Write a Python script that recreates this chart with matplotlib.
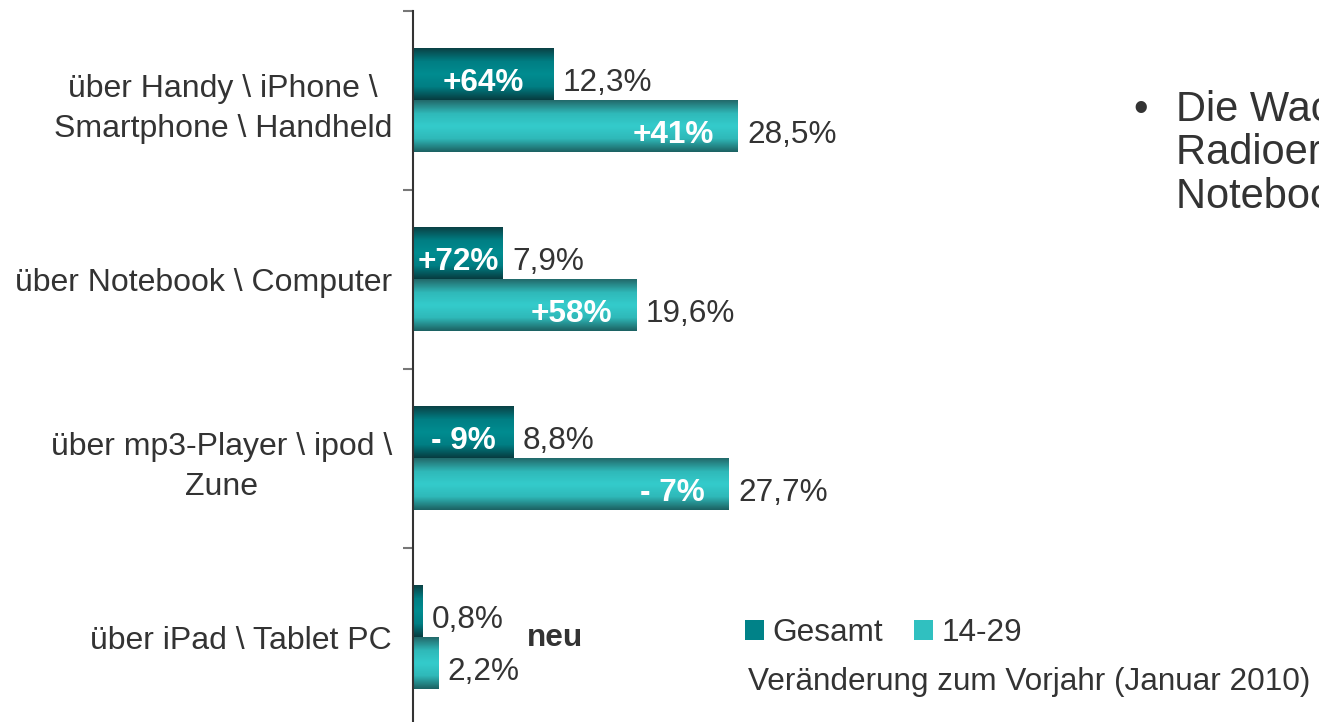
import numpy as np
import matplotlib.pyplot as plt
from matplotlib.colors import LinearSegmentedColormap
from matplotlib.patches import Patch

plt.rcParams['font.family'] = ['Liberation Sans', 'DejaVu Sans']

# Data
categories = ['über Handy \\ iPhone \\\nSmartphone \\ Handheld',
              'über Notebook \\ Computer',
              'über mp3-Player \\ ipod \\\nZune',
              'über iPad \\ Tablet PC']
gesamt = [12.3, 7.9, 8.8, 0.8]
jung = [28.5, 19.6, 27.7, 2.2]
change_gesamt = ['+64%', '+72%', '- 9%', '']
change_jung = ['+41%', '+58%', '- 7%', '']
series_names = ['Gesamt', '14-29']
bullet_lines = ['Die Wachstumsraten der', 'Radioerreichbarkeit über', 'Notebook \\ Computer']

txt = '#333333'
dark_cmap = LinearSegmentedColormap.from_list('dark', ['#0a4246', '#007e83', '#008c90', '#007e83', '#073d41'])
light_cmap = LinearSegmentedColormap.from_list('light', ['#226a6b', '#2fb8b8', '#34cccc', '#2fb8b8', '#1c6263'])

fig = plt.figure(figsize=(13.19, 7.22), dpi=100)
ax = fig.add_axes([413 / 1319, -5 / 722, 906 / 1319, 716 / 722])

y = np.arange(len(categories))
h = 0.29
bars_g = ax.barh(y - h / 2, gesamt, height=h, color='#008c90')
bars_j = ax.barh(y + h / 2, jung, height=h, color='#34cccc')

# gradient fill on every bar
grad = np.linspace(0, 1, 64).reshape(-1, 1)
for bars, cmap in [(bars_g, dark_cmap), (bars_j, light_cmap)]:
    for b in bars:
        x0, y0, w, hh = b.get_x(), b.get_y(), b.get_width(), b.get_height()
        ax.imshow(grad, cmap=cmap, aspect='auto', extent=[x0, x0 + w, y0 + hh, y0],
                  interpolation='bilinear', zorder=2)

ax.set_xlim(0, 906 / 11.39)
ax.set_ylim(3.5, -0.5)

def fmt(v):
    return f'{v:.1f}'.replace('.', ',') + '%'

off = 0.045
for i in range(len(categories)):
    ax.text(gesamt[i] + 0.85, y[i] - h / 2 + off, fmt(gesamt[i]), ha='left', va='center',
            fontsize=22.7, color=txt, zorder=3)
    ax.text(jung[i] + 0.85, y[i] + h / 2 + off, fmt(jung[i]), ha='left', va='center',
            fontsize=22.7, color=txt, zorder=3)
    if change_gesamt[i]:
        ax.text(gesamt[i] / 2, y[i] - h / 2 + off, change_gesamt[i], ha='center', va='center',
                fontsize=22.7, color='white', fontweight='bold', zorder=3)
    if change_jung[i]:
        ax.text(jung[i] - 2.1, y[i] + h / 2 + off, change_jung[i], ha='right', va='center',
                fontsize=22.7, color='white', fontweight='bold', zorder=3)

ax.text(10.0, 3, 'neu', ha='left', va='center', fontsize=22.7, color=txt, fontweight='bold')

# axes styling
for s in ['top', 'right', 'bottom']:
    ax.spines[s].set_visible(False)
ax.spines['left'].set_color('#333333')
ax.spines['left'].set_linewidth(1.5)
ax.set_xticks([])
ax.set_yticks(y)
ax.set_yticklabels(categories, fontsize=23, color=txt)
for lab in ax.get_yticklabels():
    lab.set_multialignment('center')
    lab.set_linespacing(1.44)
ax.set_yticks(np.arange(-0.5, len(categories)), minor=True)
ax.tick_params(axis='y', which='major', length=0, pad=15)
ax.tick_params(axis='y', which='minor', length=7.2, width=1.5, color='#777777')

# legend
handles = [Patch(facecolor='#008288'), Patch(facecolor='#30c0c0')]
fig.legend(handles, series_names, loc='center left', ncol=2, frameon=False,
           bbox_to_anchor=(745 / 1319, 1 - 633 / 722), bbox_transform=fig.transFigure,
           fontsize=22.7, handlelength=0.6, handleheight=0.6, handletextpad=0.26,
           columnspacing=1.0, borderpad=0, borderaxespad=0, labelcolor=txt)
fig.text(748 / 1319, 1 - 682 / 722, 'Veränderung zum Vorjahr (Januar 2010)', ha='left',
         va='center', fontsize=22.7, color=txt)

# side text (cut by the slide edge, as in the source slide)
fig.text(1133 / 1319, 1 - 110 / 722, '•', ha='left', va='center', fontsize=30, color=txt)
for k, line in enumerate(bullet_lines):
    fig.text(1176 / 1319, 1 - (110 + 43.5 * k) / 722, line, ha='left', va='center',
             fontsize=30, color=txt)

fig.savefig('out.png', dpi=100)
